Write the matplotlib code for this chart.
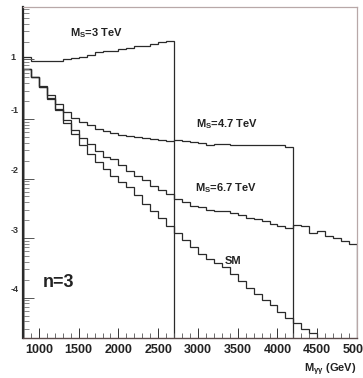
import numpy as np
import matplotlib
matplotlib.use('Agg')
import matplotlib.pyplot as plt
from matplotlib.ticker import MultipleLocator, LogLocator, NullFormatter

plt.rcParams['font.family'] = ['Liberation Sans', 'DejaVu Sans']
plt.rcParams['mathtext.fontset'] = 'custom'
plt.rcParams['mathtext.rm'] = 'Liberation Sans'
plt.rcParams['mathtext.bf'] = 'Liberation Sans:bold'
plt.rcParams['mathtext.it'] = 'Liberation Sans:italic'

# bin edges in GeV (100 GeV bins)
edges = np.arange(800, 5001, 100)

# values, one per bin; 0 means nothing drawn
sm = [0.68, 0.50, 0.34, 0.215, 0.141, 0.086, 0.056, 0.037, 0.026, 0.019,
      0.0147, 0.0112, 0.0086, 0.0071, 0.0052, 0.0038, 0.0028, 0.00215, 0.0016, 0.0012,
      9.3e-4, 7.1e-4, 5.4e-4, 4.5e-4, 3.8e-4, 3.3e-4, 2.5e-4, 1.9e-4, 1.47e-4, 1.17e-4,
      9.3e-5, 7.4e-5, 5.8e-5, 4.6e-5, 3.8e-5, 3.0e-5, 2.5e-5, 1.8e-5, 0, 0,
      0, 0]
ms67 = [0.68, 0.50, 0.34, 0.224, 0.147, 0.096, 0.066, 0.048, 0.038, 0.029,
        0.023, 0.021, 0.017, 0.0136, 0.0112, 0.0093, 0.0076, 0.0063, 0.0054, 0.0046,
        0.0040, 0.0035, 0.0033, 0.0030, 0.0029, 0.0028, 0.0026, 0.0024, 0.0022, 0.0021,
        0.0019, 0.0017, 0.0016, 0.00147, 0.00165, 0.0016, 0.0012, 0.0013, 0.0011, 0.0010,
        0.00089, 0.00079]
ms47 = [0.68, 0.50, 0.355, 0.25, 0.178, 0.131, 0.104, 0.089, 0.079, 0.068,
        0.063, 0.058, 0.054, 0.052, 0.050, 0.048, 0.046, 0.045, 0.043, 0.045,
        0.043, 0.041, 0.040, 0.037, 0.038, 0.038, 0.037, 0.037, 0.037, 0.037,
        0.037, 0.037, 0.037, 0.034, 0, 0, 0, 0, 0, 0,
        0, 0]
ms3 = [1.08, 0.96, 0.93, 0.93, 0.96, 1.0, 1.04, 1.12, 1.21, 1.31,
       1.36, 1.41, 1.47, 1.58, 1.65, 1.71, 1.85, 2.0, 2.07, 0,
       0, 0, 0, 0, 0, 0, 0, 0, 0, 0,
       0, 0, 0, 0, 0, 0, 0, 0, 0, 0,
       0, 0]

ytick_vals = [1, 1e-1, 1e-2, 1e-3, 1e-4]
ytick_text = ['1', '-1', '-2', '-3', '-4']

fig = plt.figure(figsize=(3.63, 3.78), dpi=100)
ax = fig.add_axes([0.0634, 0.1058, 0.92, 0.8757])

floor = 1e-9
for vals in [sm, ms67, ms47, ms3]:
    v = np.array(vals, dtype=float)
    v[v <= 0] = floor
    ax.stairs(v, edges, baseline=floor, color='#2a2a2a', lw=0.9)

ax.set_yscale('log')
ax.set_xlim(800, 5000)
ax.set_ylim(2.1e-5, 7.6)

ax.xaxis.set_major_locator(MultipleLocator(500))
ax.xaxis.set_minor_locator(MultipleLocator(100))
ax.tick_params(axis='x', which='major', direction='in', length=7, width=0.7,
               labelsize=9, pad=4, colors='#333333')
ax.tick_params(axis='x', which='minor', direction='in', length=3.5, width=0.6, colors='#555555')
for lab in ax.get_xticklabels():
    lab.set_fontweight('bold')
    lab.set_color('#222222')

ax.yaxis.set_major_locator(LogLocator(base=10, numticks=10))
ax.yaxis.set_minor_locator(LogLocator(base=10, subs=np.arange(2, 10), numticks=20))
ax.yaxis.set_major_formatter(NullFormatter())
ax.yaxis.set_minor_formatter(NullFormatter())
ax.tick_params(axis='y', which='major', direction='in', length=8, width=0.7, colors='#555555')
ax.tick_params(axis='y', which='minor', direction='in', length=4, width=0.6, colors='#777777')

# exponent-only labels (the "10" base is cut off on the left)
for val, txt in zip(ytick_vals, ytick_text):
    dy = 2 if txt == '1' else 8
    dx = -10 if txt == '1' else -8
    ax.annotate(txt, xy=(0, val), xycoords=('axes fraction', 'data'),
                xytext=(dx, dy), textcoords='offset pixels',
                ha='center', va='center', fontsize=6.5, fontweight='bold', color='#333333')

ax.spines['left'].set_linewidth(1.6)
ax.spines['left'].set_color('#2a2a2a')
ax.spines['bottom'].set_linewidth(1.0)
ax.spines['bottom'].set_color('#5a4a4a')
ax.spines['top'].set_color('#b8a8a8')
ax.spines['right'].set_color('#b8a8a8')
ax.spines['top'].set_linewidth(0.9)
ax.spines['right'].set_linewidth(0.9)

kw = dict(ha='center', va='center', fontsize=8, fontweight='bold', color='#222222')
ax.text(1728, 2.8, r'$\mathbf{M_{S}}$=3 TeV', **kw)
ax.text(3370, 0.083, r'$\mathbf{M_{S}}$=4.7 TeV', **kw)
ax.text(3358, 0.0068, r'$\mathbf{M_{S}}$=6.7 TeV', **kw)
ax.text(3445, 4.1e-4, 'SM', **kw)
ax.text(1251, 1.78e-4, 'n=3', ha='center', va='center', fontsize=13,
        fontweight='bold', color='#222222')

ax.text(1.0, -0.072, r'$\mathbf{M_{\gamma\gamma}}$ (GeV)', transform=ax.transAxes,
        ha='right', va='top', fontsize=8, fontweight='bold', color='#222222')

fig.savefig('out.png', dpi=100)
